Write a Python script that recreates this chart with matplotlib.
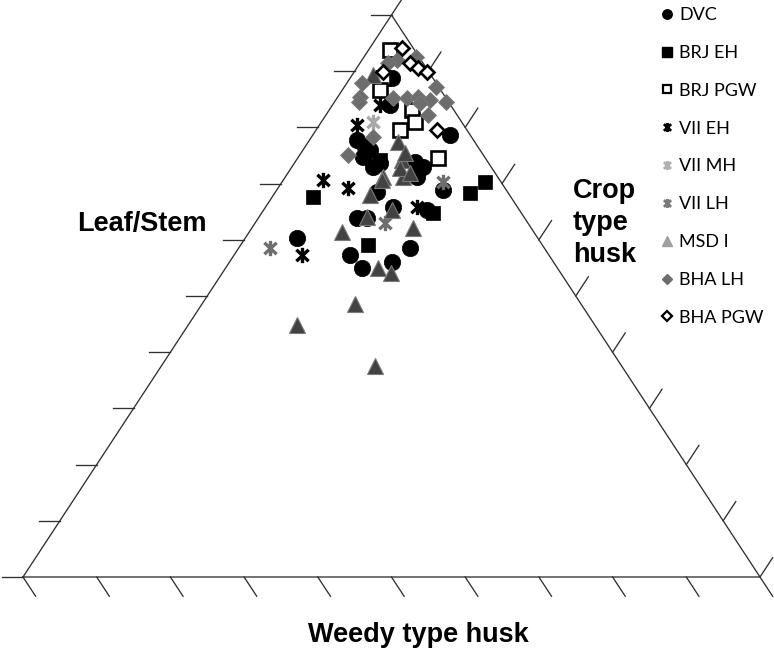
import matplotlib
matplotlib.use("Agg")
import matplotlib.pyplot as plt
from matplotlib.path import Path
from matplotlib.lines import Line2D
import numpy as np

# ---- data: percentages (leaf/stem, crop type husk, weedy type husk) ----
dvc_leaf = [88.8, 78.6, 77.8, 76.5, 74.7, 73.0, 73.7, 73.8, 73.0, 76.0, 68.5, 71.2, 68.9, 65.8, 65.3, 63.9, 63.9, 60.3, 57.3, 55.0, 56.0, 58.5, 84.0]
dvc_crop = [5.7, 18.6, 6.4, 8.1, 8.8, 11.0, 11.6, 16.3, 17.8, 9.1, 13.8, 17.9, 22.6, 17.3, 22.2, 13.4, 14.7, 7.0, 15.7, 18.5, 22.0, 23.2, 7.8]
dvc_weedy = [5.5, 2.8, 15.8, 15.4, 16.5, 16.0, 14.7, 9.9, 9.2, 14.9, 17.7, 10.9, 8.5, 16.9, 12.5, 22.7, 21.4, 32.7, 27.0, 26.5, 22.0, 18.3, 8.2]

brj_eh_leaf = [67.6, 59.1, 64.8, 68.3, 70.3, 74.2]
brj_eh_crop = [5.5, 17.3, 23.2, 26.5, 27.5, 11.3]
brj_eh_weedy = [26.9, 23.6, 12.0, 5.2, 2.2, 14.5]

brj_pgw_leaf = [93.8, 88.8, 86.7, 83.1, 81.0, 79.5, 74.6]
brj_pgw_crop = [2.9, 4.5, 5.1, 11.2, 12.7, 11.4, 19.0]
brj_pgw_weedy = [3.3, 6.7, 8.2, 5.7, 6.3, 9.1, 6.4]

vii_eh_leaf = [84.0, 80.4, 70.6, 69.2, 57.3, 65.8]
vii_eh_crop = [6.4, 5.1, 5.4, 9.5, 9.2, 20.5]
vii_eh_weedy = [9.6, 14.5, 24.0, 21.3, 33.5, 13.7]

vii_mh_leaf = [81.0]
vii_mh_crop = [7.0]
vii_mh_weedy = [12.0]

vii_lh_leaf = [58.5, 70.3, 63.0]
vii_lh_crop = [4.2, 21.8, 17.6]
vii_lh_weedy = [37.3, 7.9, 19.4]

msd_leaf = [89.3, 77.4, 74.2, 71.2, 71.2, 68.0, 72.8, 71.9, 65.3, 64.1, 62.1, 61.4, 55.0, 54.1, 48.6, 44.8, 37.5, 75.4, 70.6]
msd_crop = [2.8, 12.2, 14.3, 16.0, 13.3, 13.1, 14.8, 16.6, 17.4, 14.6, 21.9, 12.6, 20.7, 22.9, 20.8, 14.8, 29.0, 14.1, 13.4]
msd_weedy = [7.9, 10.4, 11.5, 12.8, 15.5, 18.9, 12.4, 11.5, 17.3, 21.3, 16.0, 26.0, 24.3, 23.0, 30.6, 40.4, 33.5, 10.5, 16.0]

bha_lh_leaf = [92.5, 92.0, 91.5, 87.9, 85.4, 87.2, 84.5, 85.2, 85.2, 85.4, 84.9, 82.2, 78.3, 75.1, 84.5, 84.3]
bha_lh_crop = [7.1, 4.8, 3.8, 2.0, 3.0, 12.4, 15.1, 7.6, 9.5, 10.9, 12.8, 13.8, 8.3, 6.6, 3.3, 11.7]
bha_lh_weedy = [0.4, 3.2, 4.7, 10.1, 11.6, 0.4, 0.4, 7.2, 5.3, 3.7, 2.3, 4.0, 13.4, 18.3, 12.2, 4.0]

bha_pgw_leaf = [94.1, 91.5, 90.6, 89.9, 89.9, 79.5]
bha_pgw_crop = [4.4, 6.8, 8.3, 9.9, 3.9, 16.4]
bha_pgw_weedy = [1.5, 1.7, 1.1, 0.2, 6.2, 4.1]

series_labels = ["DVC", "BRJ EH", "BRJ PGW", "VII EH", "VII MH", "VII LH", "MSD I", "BHA LH", "BHA PGW"]
axis_titles = ["Leaf/Stem", "Crop\ntype\nhusk", "Weedy type husk"]
tick_fracs = [i / 10 for i in range(11)]


def proj(leaf, crop, weedy):
    leaf = np.asarray(leaf, float)
    crop = np.asarray(crop, float)
    weedy = np.asarray(weedy, float)
    tot = leaf + crop + weedy
    a = leaf / tot
    b = crop / tot
    return b + a / 2.0, a


W, H = 774, 650
fig = plt.figure(figsize=(W / 100, H / 100), dpi=100)
ax = fig.add_axes([0, 0, 1, 1])
# pixel geometry of triangle: base (23,577)-(760,577), apex y=15
x0, xr, yb, yt = 23.0, 760.0, 577.0, 15.0
sx = xr - x0
sy = yb - yt
ax.set_xlim(-x0 / sx, (W - x0) / sx)
ax.set_ylim((yb - H) / sy, yb / sy)
ax.axis("off")

lc = "#303030"
lw = 0.95
# triangle
ax.plot([0, 1, 0.5, 0], [0, 0, 1, 0], color=lc, lw=lw, solid_joinstyle="miter", zorder=1)

# ticks
tl = 23.0
side_len = np.hypot(sx / 2, sy)
ddx = tl * (sx / 2) / side_len / sx
ddy = tl * sy / side_len / sy
for f in tick_fracs:
    # left side: horizontal ticks
    px, py = f * 0.5, f
    ax.plot([px, px - 21.0 / sx], [py, py], color=lc, lw=lw, zorder=1)
    # bottom: ticks parallel to right side
    px, py = f, 0.0
    ax.plot([px, px + ddx], [py, py - ddy], color=lc, lw=lw, zorder=1)
    # right side: ticks parallel to left side
    px, py = 1 - f * 0.5, f
    ax.plot([px, px + ddx], [py, py + ddy], color=lc, lw=lw, zorder=1)

# asterisk (Excel "star") marker
star = Path([(0, -1), (0, 1), (-0.8, -0.75), (0.8, 0.75), (-0.8, 0.75), (0.8, -0.75)],
            [Path.MOVETO, Path.LINETO] * 3)

styles = [
    dict(marker="o", ms=11.8, mfc="black", mec="black", mew=0.5),
    dict(marker="s", ms=10.5, mfc="black", mec="black", mew=0.5),
    dict(marker="s", ms=9.5, mfc="white", mec="black", mew=1.9),
    dict(marker=star, ms=11, mfc="none", mec="black", mew=2.4),
    dict(marker=star, ms=11, mfc="none", mec="#a8a8a8", mew=2.4),
    dict(marker=star, ms=11, mfc="none", mec="#6e6e6e", mew=2.4),
    dict(marker="^", ms=11.8, mfc="#424242", mec="#7a7a7a", mew=0.8),
    dict(marker="D", ms=8.6, mfc="#6d6d6d", mec="#7a7a7a", mew=0.6),
    dict(marker="D", ms=7.6, mfc="white", mec="black", mew=1.9),
]

data = [
    (dvc_leaf, dvc_crop, dvc_weedy),
    (brj_eh_leaf, brj_eh_crop, brj_eh_weedy),
    (brj_pgw_leaf, brj_pgw_crop, brj_pgw_weedy),
    (vii_eh_leaf, vii_eh_crop, vii_eh_weedy),
    (vii_mh_leaf, vii_mh_crop, vii_mh_weedy),
    (vii_lh_leaf, vii_lh_crop, vii_lh_weedy),
    (msd_leaf, msd_crop, msd_weedy),
    (bha_lh_leaf, bha_lh_crop, bha_lh_weedy),
    (bha_pgw_leaf, bha_pgw_crop, bha_pgw_weedy),
]

for i, ((l, c, w), st) in enumerate(zip(data, styles)):
    x, y = proj(l, c, w)
    ax.plot(x, y, ls="none", zorder=3 + i, **st)

# legend handles (legend markers are smaller / lighter as in reference)
leg_styles = [
    dict(marker="o", ms=6.8, mfc="black", mec="black"),
    dict(marker="s", ms=6.5, mfc="black", mec="black"),
    dict(marker="s", ms=5.5, mfc="white", mec="black", mew=1.6),
    dict(marker=star, ms=6.5, mfc="none", mec="black", mew=2.0),
    dict(marker=star, ms=6.5, mfc="none", mec="#b0b0b0", mew=2.0),
    dict(marker=star, ms=6.5, mfc="none", mec="#7a7a7a", mew=2.0),
    dict(marker="^", ms=7, mfc="#a0a0a0", mec="#a0a0a0"),
    dict(marker="D", ms=5, mfc="#6d6d6d", mec="#6d6d6d"),
    dict(marker="D", ms=4.8, mfc="white", mec="black", mew=1.6),
]
handles = [Line2D([], [], ls="none", **s) for s in leg_styles]
leg = fig.legend(handles, series_labels, loc="upper left",
                 bbox_to_anchor=(662 / W, 1 - 7 / H), frameon=False,
                 prop=dict(family="Lato", size=13), handlelength=0.6,
                 handletextpad=0.35, labelspacing=1.21, borderpad=0,
                 borderaxespad=0)

tfont = dict(family="Liberation Sans", size=19.5, weight="bold", color="black")
fig.text(142 / W, 1 - 224 / H, axis_titles[0], ha="center", va="center", **tfont)
fig.text(573 / W, 1 - 223 / H, axis_titles[1], ha="left", va="center",
         linespacing=1.32, **tfont)
fig.text(418 / W, 1 - 635 / H, axis_titles[2], ha="center", va="center", **tfont)

fig.savefig("out.png", dpi=100)
